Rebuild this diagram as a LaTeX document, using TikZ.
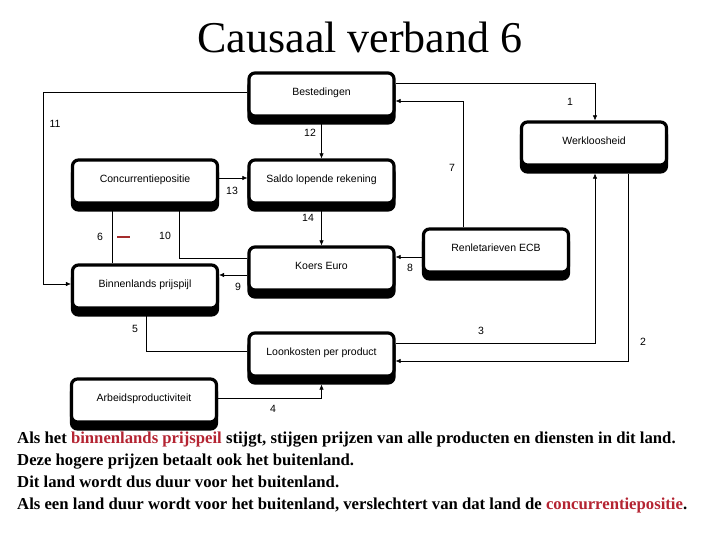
\documentclass[tikz,border=0pt]{standalone}
\usepackage{fontspec}
\setmainfont{Liberation Serif}
\newfontfamily\arialfont{Liberation Sans}
\usetikzlibrary{arrows.meta}
\definecolor{redtxt}{RGB}{180,36,50}
\definecolor{reddash}{RGB}{165,45,45}
\begin{document}
\begin{tikzpicture}[x=1pt,y=-1pt,
  box/.style={draw=black, line width=3.2pt, rounded corners=6pt, fill=white,
    minimum width=145pt, minimum height=43pt, inner sep=0pt,
    text height=7.5pt, text depth=5pt,
    font=\arialfont\fontsize{10.5}{12}\selectfont,
    preaction={draw=black, fill=black, line width=3.2pt, transform canvas={yshift=-7pt}}},
  conn/.style={line width=0.6pt, draw=black},
  arr/.style={conn, -{Latex[length=5pt,width=4.5pt]}},
  lbl/.style={font=\arialfont\fontsize{10.5}{12}\selectfont, inner sep=0pt},
  txt/.style={anchor=base west, inner sep=0pt, font=\fontsize{16.7}{20}\selectfont\bfseries}]
\useasboundingbox (0,0) rectangle (720,540);

\node[anchor=base, inner sep=0pt, font=\fontsize{44}{48}\selectfont] (title) at (360,53) {Causaal verband 6};

\node[box] (best) at (321.5,94.5) {Bestedingen};
\node[box] (werk) at (594,143.5) {Werkloosheid};
\node[box] (conc) at (145,181.5) {Concurrentiepositie};
\node[box] (saldo) at (321.5,181.5) {Saldo lopende rekening};
\node[box] (ecb) at (496,250.5) {Renletarieven ECB};
\node[box] (koers) at (321.5,268.5) {Koers Euro};
\node[box] (binn) at (145,286.5) {Binnenlands prijspijl};
\node[box] (loon) at (321.5,354.5) {Loonkosten per product};
\node[box] (arb) at (144,400.5) {Arbeidsproductiviteit};

% connectors
\draw[arr] (best.east |- 0,83) -| (werk.north -| 595,0);
\draw[arr] (ecb.north -| 463,0) |- (best.east |- 0,101);
\draw[arr] (best.west |- 0,92) -| (43,284) -- (binn.west |- 0,284);
\draw[arr] (best.south) -- (saldo.north);
\draw[arr] (conc.east |- 0,178) -- (saldo.west |- 0,178);
\draw[arr] (saldo.south) -- (koers.north);
\draw[conn] (binn.north -| 112,0) -- (conc.south -| 112,0);
\draw[conn] (koers.west |- 0,258) -| (conc.south -| 179,0);
\draw[arr] (koers.west |- 0,275) -- (binn.east |- 0,275);
\draw[arr] (ecb.west |- 0,257) -- (koers.east |- 0,257);
\draw[conn] (binn.south -| 146,0) |- (loon.west |- 0,351);
\draw[arr] (loon.east |- 0,343) -| ([yshift=-7pt]werk.south -| 595,0);
\draw[arr] ([yshift=-7pt]werk.south -| 628,0) |- (loon.east |- 0,361);
\draw[arr] (arb.east |- 0,398) -| ([yshift=-7pt]loon.south);

% labels
\node[lbl] (l1) at (570,102) {1};
\node[lbl] (l2) at (643,342) {2};
\node[lbl] (l3) at (481,331) {3};
\node[lbl] (l4) at (273,409) {4};
\node[lbl] (l5) at (135,329) {5};
\node[lbl] (l6) at (100,237) {6};
\node[lbl] (l7) at (452,168) {7};
\node[lbl] (l8) at (410,268) {8};
\node[lbl] (l9) at (238,287) {9};
\node[lbl] (l10) at (165,236) {10};
\node[lbl] (l11) at (55,124) {11};
\node[lbl] (l12) at (310,133) {12};
\node[lbl] (l13) at (232,191) {13};
\node[lbl] (l14) at (308,218) {14};
\coordinate (da) at (117,237);
\coordinate (db) at (130,237);
\draw[draw=reddash, line width=2pt] (da) -- (db);

% bottom text
\node[txt] (t1) at (17,443) {Als het \textcolor{redtxt}{binnenlands prijspeil} stijgt, stijgen prijzen van alle producten en diensten in dit land.};
\node[txt] (t2) at (17,465) {Deze hogere prijzen betaalt ook het buitenland.};
\node[txt] (t3) at (17,487) {Dit land wordt dus duur voor het buitenland.};
\node[txt] (t4) at (17,509) {Als een land duur wordt voor het buitenland, verslechtert van dat land de \textcolor{redtxt}{concurrentiepositie}.};
\end{tikzpicture}
\end{document}
